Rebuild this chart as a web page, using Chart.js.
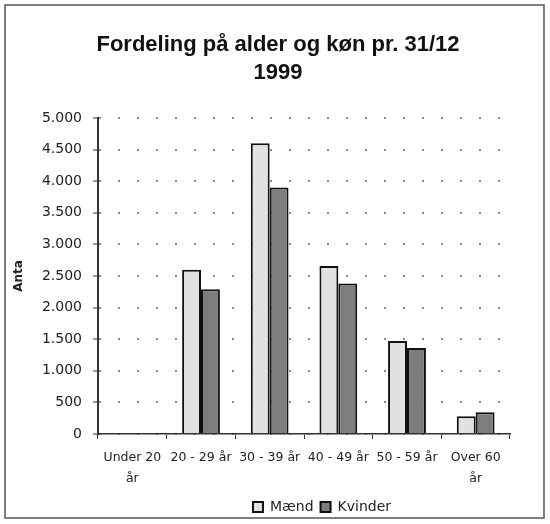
<!DOCTYPE html>
<html>
<head>
<meta charset="utf-8">
<script src="https://cdn.jsdelivr.net/npm/chart.js@4/dist/chart.umd.min.js"></script>
<style>
  body { margin: 0; background: #fff; }
  #wrap { width: 550px; height: 524px; position: relative; }
</style>
</head>
<body>
<div id="wrap"><canvas id="ageChart" width="550" height="524"></canvas></div>
<script>
const categories = [['Under 20', 'år'], '20 - 29 år', '30 - 39 år', '40 - 49 år', '50 - 59 år', ['Over 60', 'år']];
const maend = [0, 2600, 4600, 2660, 1470, 280];
const kvinder = [0, 2290, 3900, 2380, 1360, 345];
const titleLines = ['Fordeling på alder og køn pr. 31/12', '1999'];
const tickFont = 'DejaVu Sans';

// frame around the whole picture + nudge legend and title to the right like the original
const framePlugin = {
  id: 'frame',
  afterLayout(chart) {
    chart.legend.left += 62;
    chart.legend.right += 62;
    chart.titleBlock.left += 18;
    chart.titleBlock.right += 18;
  },
  beforeDraw(chart) {
    const ctx = chart.ctx;
    ctx.save();
    ctx.fillStyle = '#fff';
    ctx.fillRect(0, 0, chart.width, chart.height);
    ctx.strokeStyle = '#555';
    ctx.lineWidth = 1.5;
    ctx.strokeRect(5, 5, 539, 513);
    ctx.restore();
  }
};

new Chart(document.getElementById('ageChart'), {
  type: 'bar',
  data: {
    labels: categories,
    datasets: [
      {
        label: 'Mænd',
        data: maend,
        backgroundColor: '#e2e2e2',
        borderColor: '#111',
        borderWidth: 2
      },
      {
        label: 'Kvinder',
        data: kvinder,
        backgroundColor: '#7d7d7d',
        borderColor: '#111',
        borderWidth: 2
      }
    ]
  },
  options: {
    responsive: false,
    animation: false,
    datasets: { bar: { categoryPercentage: 0.55, barPercentage: 1.0 } },
    layout: { padding: { left: 10, right: 40, top: 0, bottom: 0 } },
    plugins: {
      title: {
        display: true,
        text: titleLines,
        color: '#111',
        font: { family: 'Liberation Sans', size: 22, weight: 'bold', lineHeight: 28 / 22 },
        padding: { top: 31, bottom: 31 }
      },
      legend: {
        position: 'bottom',
        labels: {
          color: '#222',
          font: { family: tickFont, size: 14 },
          boxWidth: 10,
          boxHeight: 10,
          padding: 7
        }
      },
      tooltip: { enabled: false }
    },
    scales: {
      x: {
        offset: true,
        grid: { display: true, drawOnChartArea: false, tickLength: 5, color: '#333', tickColor: '#333' },
        border: { display: true, color: '#333', width: 1.5 },
        ticks: {
          color: '#222',
          font: { family: tickFont, size: 12.5, lineHeight: 1.7 },
          padding: 8,
          maxRotation: 0,
          autoSkip: false
        },
        afterFit(scale) { scale.height = 59; }
      },
      y: {
        min: 0,
        max: 5000,
        grid: {
          color: '#8a8a8a',
          lineWidth: 2,
          tickLength: 5,
          tickColor: '#333',
          tickWidth: 1,
          tickBorderDash: []
        },
        border: { display: true, color: '#333', width: 2, dash: [2, 17] },
        ticks: {
          stepSize: 500,
          color: '#222',
          padding: 11,
          font: { family: tickFont, size: 14 },
          callback: v => String(v).replace(/\B(?=(\d{3})+(?!\d))/g, '.')
        },
        title: {
          display: true,
          text: 'Anta',
          color: '#222',
          font: { family: tickFont, size: 12, weight: 'bold' },
          padding: 2
        },
        afterFit(scale) { scale.width = 88; }
      }
    }
  },
  plugins: [framePlugin]
});
</script>
</body>
</html>
